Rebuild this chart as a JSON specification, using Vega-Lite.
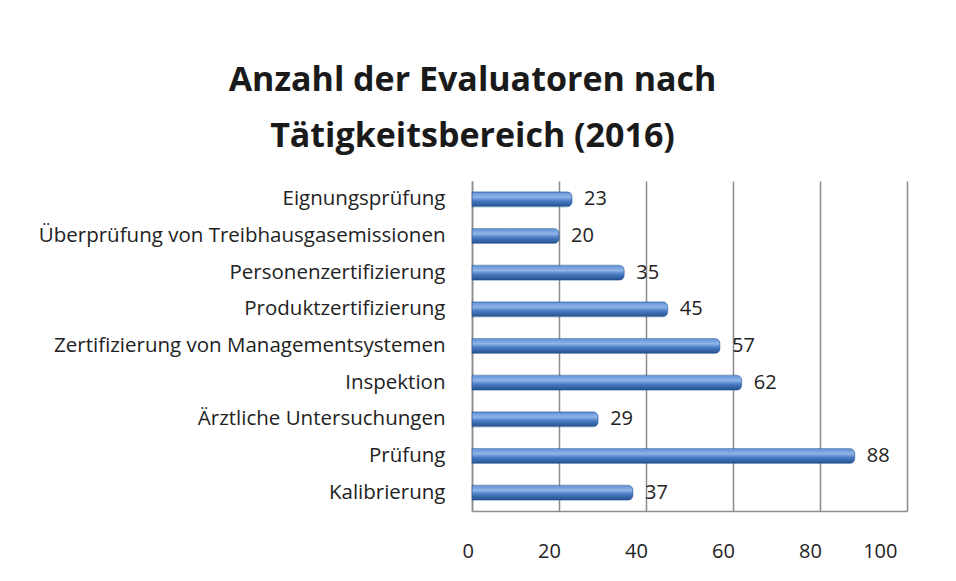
{
  "$schema": "https://vega.github.io/schema/vega-lite/v6.json",
  "width": 435,
  "height": 330,
  "autosize": {"type": "none"},
  "padding": {"left": 472, "top": 181, "right": 49, "bottom": 70},
  "background": "white",
  "title": {
    "text": ["Anzahl der Evaluatoren nach", "Tätigkeitsbereich (2016)"],
    "font": "Open Sans",
    "fontSize": 34,
    "fontWeight": "bold",
    "color": "#1a1a1a",
    "anchor": "middle",
    "frame": "group",
    "dx": -217,
    "offset": 27,
    "lineHeight": 56
  },
  "data": {
    "values": [
      {"Bereich": "Eignungsprüfung", "Anzahl": 23},
      {"Bereich": "Überprüfung von Treibhausgasemissionen", "Anzahl": 20},
      {"Bereich": "Personenzertifizierung", "Anzahl": 35},
      {"Bereich": "Produktzertifizierung", "Anzahl": 45},
      {"Bereich": "Zertifizierung von Managementsystemen", "Anzahl": 57},
      {"Bereich": "Inspektion", "Anzahl": 62},
      {"Bereich": "Ärztliche Untersuchungen", "Anzahl": 29},
      {"Bereich": "Prüfung", "Anzahl": 88},
      {"Bereich": "Kalibrierung", "Anzahl": 37}
    ]
  },
  "encoding": {
    "y": {
      "field": "Bereich",
      "type": "nominal",
      "sort": null,
      "title": null,
      "axis": {
        "labelFont": "Open Sans",
        "labelFontSize": 20.5,
        "labelColor": "#222222",
        "labelPadding": 27,
        "ticks": false,
        "domain": true,
        "domainColor": "#8c8c8c",
        "domainWidth": 1.5,
        "labelLimit": 500
      }
    },
    "x": {
      "field": "Anzahl",
      "type": "quantitative",
      "scale": {"domain": [0, 100]},
      "title": null,
      "axis": {
        "values": [0, 20, 40, 60, 80, 100],
        "labelFont": "Open Sans",
        "labelFontSize": 20,
        "labelColor": "#222222",
        "labelPadding": 30,
        "labelOffset": -10,
        "ticks": false,
        "domain": true,
        "domainColor": "#8c8c8c",
        "domainWidth": 1.5,
        "grid": true,
        "gridColor": "#8c8c8c",
        "gridWidth": 1.5
      }
    }
  },
  "layer": [
    {
      "mark": {
        "type": "bar",
        "size": 15,
        "cornerRadiusEnd": 5,
        "fill": {
          "gradient": "linear",
          "x1": 0, "y1": 0, "x2": 0, "y2": 1,
          "stops": [
            {"offset": 0, "color": "#5e8fd3"},
            {"offset": 0.35, "color": "#8fb5e8"},
            {"offset": 0.6, "color": "#4a7cc4"},
            {"offset": 1, "color": "#234f8c"}
          ]
        },
        "stroke": "#2a5a9a",
        "strokeWidth": 0.5
      }
    },
    {
      "mark": {
        "type": "text",
        "align": "left",
        "baseline": "middle",
        "dx": 12,
        "font": "Open Sans",
        "fontSize": 20,
        "color": "#222222"
      },
      "encoding": {"text": {"field": "Anzahl", "type": "quantitative"}}
    }
  ],
  "config": {"view": {"stroke": null}}
}
